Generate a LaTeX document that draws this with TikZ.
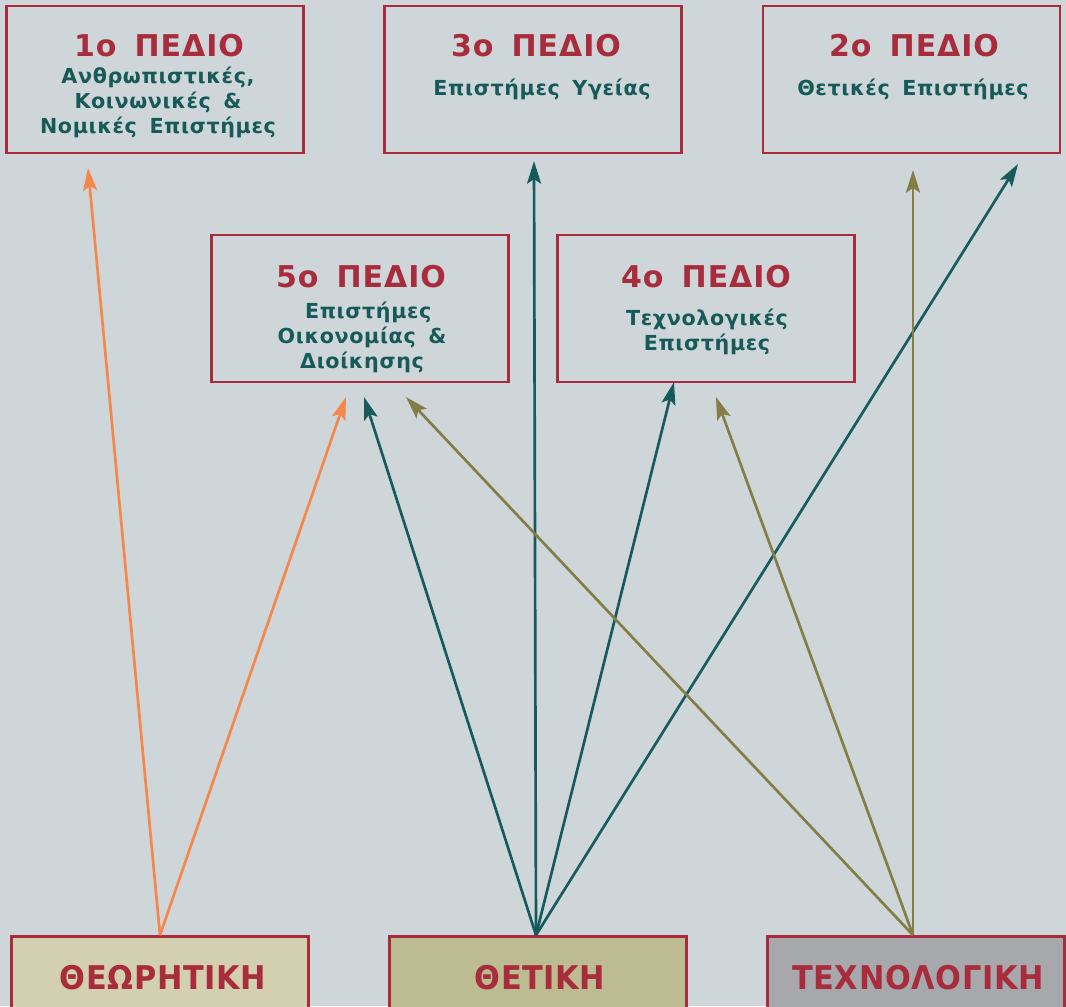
\documentclass[tikz,border=0pt]{standalone}
\usepackage{fontspec}
\usetikzlibrary{arrows.meta}
\newfontfamily\titlefont[LetterSpace=3]{DejaVu Sans}
\newfontfamily\subfont[LetterSpace=3,WordSpace=1.6]{DejaVu Sans}
\newfontfamily\botfont[FakeStretch=0.93,LetterSpace=2]{DejaVu Sans}
\definecolor{bg}{HTML}{CED6DA}
\definecolor{boxred}{HTML}{A82C3C}
\definecolor{tealtext}{HTML}{175A58}
\definecolor{arrorange}{HTML}{F5874A}
\definecolor{arrteal}{HTML}{165A5C}
\definecolor{arrolive}{HTML}{847D45}
\definecolor{fillA}{HTML}{D3D0B1}
\definecolor{fillB}{HTML}{BDBB91}
\definecolor{fillC}{HTML}{A7A8AC}
\begin{document}
\begin{tikzpicture}[x=0.75pt,y=-0.75pt,
  box/.style={draw=boxred,line width=1.8pt,minimum width=223pt,minimum height=110.5pt,inner sep=0pt},
  botbox/.style={draw=boxred,line width=1.8pt,minimum width=223pt,minimum height=112pt,inner sep=0pt},
  ttl/.style={anchor=base,inner sep=0pt,text=boxred,font=\titlefont\bfseries\fontsize{22.5}{22.5}\selectfont},
  sub/.style={anchor=north,inner sep=0pt,align=center,text=tealtext,font=\subfont\bfseries\fontsize{15.5}{18.75}\selectfont},
  bot/.style={anchor=base,inner sep=0pt,text=boxred,font=\botfont\bfseries\fontsize{24.5}{24.5}\selectfont},
  arr/.style={line width=2pt,-{Stealth[length=17pt,width=10.5pt,inset=3.5pt]}}]
\useasboundingbox (0,0) rectangle (1066,1006);
\clip (0,0) rectangle (1066,1006);
\fill[bg] (0,0) rectangle (1066,1006);

% top boxes
\node[box] (b1) at (155,79.5) {};
\node[box] (b3) at (533,79.5) {};
\node[box] (b2) at (911.5,79.5) {};
% middle boxes
\node[box] (b5) at (360,308.5) {};
\node[box] (b4) at (706,308.5) {};
% bottom boxes
\node[botbox,fill=fillA] (theo) at (160,1011) {};
\node[botbox,fill=fillB] (thet) at (538,1011) {};
\node[botbox,fill=fillC] (tech) at (916,1011) {};

% titles
\node[ttl] (t1) at (159,56) {1o ΠΕΔΙΟ};
\node[ttl] (t3) at (536,57) {3o ΠΕΔΙΟ};
\node[ttl] (t2) at (914,57) {2o ΠΕΔΙΟ};
\node[ttl] (t5) at (361,287) {5o ΠΕΔΙΟ};
\node[ttl] (t4) at (706,287) {4o ΠΕΔΙΟ};

% subtitles
\node[sub] (s1) at (158,65.5) {\strut Ανθρωπιστικές,\\Κοινωνικές \&\\Νομικές Επιστήμες};
\node[sub] (s3) at (542,77.5) {\strut Επιστήμες Υγείας};
\node[sub] (s2) at (913,77.5) {\strut Θετικές Επιστήμες};
\node[sub] (s5) at (362,300.5) {\strut \ Επιστήμες\\Οικονομίας \&\\Διοίκησης};
\node[sub] (s4) at (707,307.5) {\strut Τεχνολογικές\\Επιστήμες};

% bottom labels
\node[bot] (l1) at (163,989) {ΘΕΩΡΗΤΙΚΗ};
\node[bot] (l2) at (540,989) {ΘΕΤΙΚΗ};
\node[bot] (l3) at (918,989) {ΤΕΧΝΟΛΟΓΙΚΗ};

% arrow end points
\coordinate (e1) at (88,168);
\coordinate (e5o) at (346,397);
\coordinate (e3) at (534,161);
\coordinate (e5t) at (364,397);
\coordinate (e4t) at (674,382);
\coordinate (e2t) at (1018,164);
\coordinate (e2o) at (913,170);
\coordinate (e5l) at (406,397);
\coordinate (e4l) at (716,397);

\coordinate (st1) at ([xshift=0pt]theo.north);
\coordinate (st2) at ([xshift=-1.5pt]thet.north);
\coordinate (st3) at ([xshift=-2.25pt]tech.north);

\draw[arr,arrorange] (st1) -- (e1);
\draw[arr,arrorange] (st1) -- (e5o);
\draw[arr,arrteal] (st2) -- (e3);
\draw[arr,arrteal] (st2) -- (e5t);
\draw[arr,arrteal] (st2) -- (e4t);
\draw[arr,arrteal] (st2) -- (e2t);
\draw[arr,arrolive] (st3) -- (e2o);
\draw[arr,arrolive] (st3) -- (e5l);
\draw[arr,arrolive] (st3) -- (e4l);
\end{tikzpicture}
\end{document}
